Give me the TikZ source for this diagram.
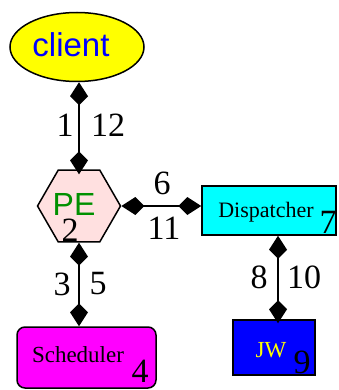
\documentclass[tikz,border=0pt]{standalone}
\usepackage{fontspec}
\setmainfont{Liberation Serif}
\newfontfamily\figsans{Liberation Sans}
\usetikzlibrary{shapes.geometric,arrows.meta}

\definecolor{pePink}{RGB}{255,224,224}
\definecolor{peGreen}{RGB}{0,144,0}
\definecolor{figYellow}{RGB}{255,255,0}
\definecolor{figBlue}{RGB}{0,0,255}
\definecolor{figCyan}{RGB}{0,255,255}
\definecolor{figMagenta}{RGB}{255,0,255}

\tikzset{>={Kite[length=23pt,width=18pt,inset=9pt]}}

\begin{document}
\begin{tikzpicture}[x=1pt,y=-1pt,
    part/.style={draw,line width=1.5pt,inner sep=0pt},
    link/.style={line width=1.6pt,<->},
    num/.style={font=\fontsize{34}{34}\selectfont,inner sep=0pt},
    word/.style={font=\fontsize{23}{23}\selectfont,inner sep=0pt}]
  \useasboundingbox (0,0) rectangle (338,390);

  % the parts
  \node[part,ellipse,fill=figYellow,minimum width=134pt,minimum height=69pt] (client) at (77,47) {};
  \node[part,regular polygon,regular polygon sides=6,fill=pePink,minimum size=83pt] (pe) at (79,206) {};
  \node[part,rectangle,fill=figCyan,minimum width=134pt,minimum height=49pt] (disp) at (269,210.5) {};
  \node[part,rectangle,fill=figBlue,minimum width=82pt,minimum height=55pt] (jw) at (274,347.5) {};
  \node[part,rectangle,rounded corners=8pt,fill=figMagenta,minimum width=139pt,minimum height=61pt] (sched) at (86.5,357.5) {};

  % their names
  \node[font=\figsans\fontsize{33}{33}\selectfont,text=figBlue,inner sep=0pt] (clientname) at (71,45) {client};
  \node[font=\figsans\fontsize{32}{32}\selectfont,text=peGreen,inner sep=0pt] (pename) at (74,204) {PE};
  \node[word,font=\fontsize{22}{22}\selectfont] (dispname) at (266,212) {Dispatcher};
  \node[word,text=figYellow] (jwname) at (271,350) {JW};
  \node[word] (schedname) at (78,355) {Scheduler};

  % links, both ways
  \draw[link] (pe.north |- client.south) -- ([yshift=-5pt]pe.north);
  \draw[link] (pe.east) -- (pe.east -| disp.west);
  \draw[link] (pe.south) -- (pe.south |- sched.north);
  \draw[link] ([xshift=4pt]jw.north |- disp.south) -- ([xshift=4pt,yshift=-4pt]jw.north);

  % message order
  \node[num] at (65,125) {1};
  \node[num] at (108,125) {12};
  \node[num] at (70,230) {2};
  \node[num] at (62,284) {3};
  \node[num] at (140,371) {4};
  \node[num] at (98,284) {5};
  \node[num] at (162,183) {6};
  \node[num] at (328,222) {7};
  \node[num] at (259,277) {8};
  \node[num] at (302,362) {9};
  \node[num] at (304,277) {10};
  \node[num] at (164,228) {11};
\end{tikzpicture}
\end{document}
